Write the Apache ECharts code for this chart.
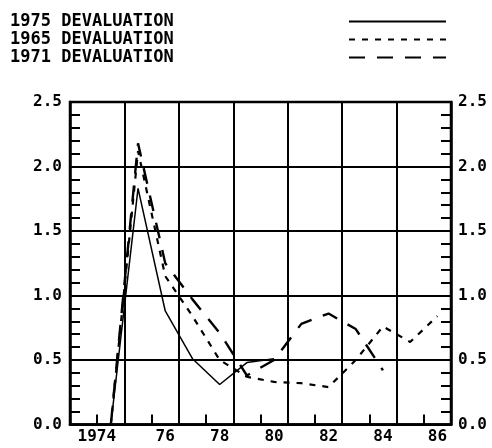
<!DOCTYPE html>
<html>
<head>
<meta charset="utf-8">
<script src="https://cdn.jsdelivr.net/npm/echarts@6/dist/echarts.min.js"></script>
<style>
  html, body { margin: 0; padding: 0; background: #fff; }
  #chart { width: 492px; height: 448px; }
</style>
</head>
<body>
<div id="chart"></div>
<script>
// Years after each devaluation, aligned on the 1975 event year
const years1975 = [1974, 1975, 1976, 1977, 1978, 1979, 1980];
const dev1975 = [0, 1.83, 0.88, 0.51, 0.31, 0.48, 0.51];

const years1965 = [1974, 1975, 1976, 1977, 1978, 1979, 1980, 1981, 1982, 1983, 1984, 1985, 1986];
const dev1965 = [0, 2.12, 1.15, 0.84, 0.50, 0.37, 0.33, 0.32, 0.29, 0.50, 0.76, 0.64, 0.84];

const years1971 = [1974, 1975, 1976, 1977, 1978, 1979, 1980, 1981, 1982, 1983, 1984];
const dev1971 = [0, 2.18, 1.25, 0.97, 0.71, 0.38, 0.50, 0.78, 0.86, 0.74, 0.42];

const seriesNames = ['1975 DEVALUATION', '1965 DEVALUATION', '1971 DEVALUATION'];
const yearLabels = [1974, 1976, 1978, 1980, 1982, 1984, 1986];

const FONT = '"DejaVu Sans Mono", "Liberation Mono", monospace';
const INK = '#000';

function pairs(xs, ys) { return xs.map((x, i) => [x, ys[i]]); }

const chart = echarts.init(document.getElementById('chart'), null, { renderer: 'canvas' });

chart.setOption({
  animation: false,
  backgroundColor: '#fff',
  grid: {
    left: 70, right: 41, top: 102, bottom: 23.5,
    show: true, borderColor: INK, borderWidth: 2.5, backgroundColor: 'transparent'
  },
  legend: {
    orient: 'vertical',
    left: 10, top: 13,
    align: 'right',
    padding: 0,
    itemGap: 1,
    itemWidth: 97,
    itemHeight: 18,
    data: seriesNames,
    itemStyle: { color: 'rgba(0,0,0,0)', borderWidth: 0 },
    formatter: name => '{t|' + name + '}',
    textStyle: {
      color: INK, fontFamily: FONT, fontWeight: 'bold', fontSize: 17,
      rich: {
        t: { width: 334, align: 'left', color: INK, fontFamily: FONT, fontWeight: 'bold', fontSize: 17, lineHeight: 18 }
      }
    }
  },
  xAxis: [
    {
      // half-year frame: grid lines between label years, short ticks in between
      type: 'value', min: 1972.5, max: 1986.5, interval: 2,
      position: 'bottom',
      axisLine: { show: true, onZero: false, lineStyle: { color: INK, width: 2.5 } },
      axisTick: { show: false, inside: true },
      minorTick: { show: true, splitNumber: 2, length: 10, lineStyle: { color: INK, width: 2 } },
      splitLine: { show: true, lineStyle: { color: INK, width: 2 } },
      axisLabel: { show: false }
    },
    {
      // year labels
      type: 'value', min: 1972.5, max: 1986.5, interval: 0.5,
      position: 'bottom',
      axisLine: { show: false, onZero: false },
      axisTick: { show: false },
      splitLine: { show: false },
      axisLabel: {
        margin: 4,
        color: INK, fontFamily: FONT, fontWeight: 'bold', fontSize: 16,
        showMinLabel: true, showMaxLabel: true,
        formatter: v => {
          const yr = Math.round(v * 2) / 2;
          if (yearLabels.indexOf(yr) < 0) return '';
          if (yr === 1974) return '{first|1974}';
          return String(yr).slice(2);
        },
        rich: {
          first: { padding: [0, 28, 0, 0], color: INK, fontFamily: FONT, fontWeight: 'bold', fontSize: 16 }
        }
      }
    }
  ],
  yAxis: [
    {
      type: 'value', min: 0, max: 2.5, interval: 0.5,
      position: 'left',
      axisLine: { show: true, onZero: false, lineStyle: { color: INK, width: 2.5 } },
      axisTick: { show: true, inside: true, length: 10, lineStyle: { color: INK, width: 2 } },
      minorTick: { show: true, splitNumber: 5, length: 10, lineStyle: { color: INK, width: 2 } },
      splitLine: { show: true, lineStyle: { color: INK, width: 2 } },
      axisLabel: {
        margin: 8, color: INK, fontFamily: FONT, fontWeight: 'bold', fontSize: 16,
        formatter: v => v.toFixed(1)
      }
    },
    {
      type: 'value', min: 0, max: 2.5, interval: 0.5,
      position: 'right',
      axisLine: { show: true, onZero: false, lineStyle: { color: INK, width: 2.5 } },
      axisTick: { show: true, inside: true, length: 10, lineStyle: { color: INK, width: 2 } },
      minorTick: { show: true, splitNumber: 5, length: 10, lineStyle: { color: INK, width: 2 } },
      splitLine: { show: false },
      axisLabel: {
        margin: 7, color: INK, fontFamily: FONT, fontWeight: 'bold', fontSize: 16,
        formatter: v => v.toFixed(1)
      }
    }
  ],
  series: [
    {
      name: seriesNames[0], type: 'line', xAxisIndex: 0, yAxisIndex: 0,
      symbol: 'none', z: 5,
      lineStyle: { color: INK, width: 1.5, type: 'solid' },
      data: pairs(years1975, dev1975)
    },
    {
      name: seriesNames[1], type: 'line', xAxisIndex: 0, yAxisIndex: 0,
      symbol: 'none', z: 5,
      lineStyle: { color: INK, width: 2.2, type: [6, 7] },
      data: pairs(years1965, dev1965)
    },
    {
      name: seriesNames[2], type: 'line', xAxisIndex: 0, yAxisIndex: 0,
      symbol: 'none', z: 5,
      lineStyle: { color: INK, width: 2.4, type: [16, 12] },
      data: pairs(years1971, dev1971)
    }
  ]
});
</script>
</body>
</html>
